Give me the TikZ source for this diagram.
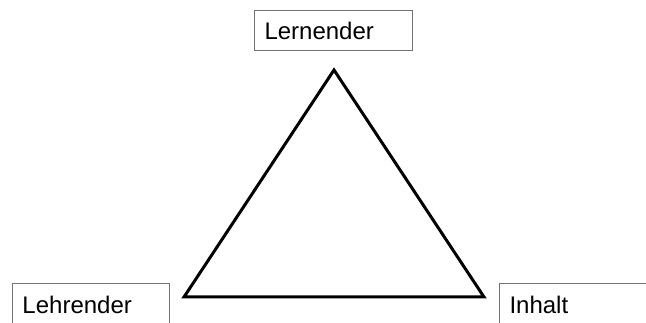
\documentclass[tikz,border=0pt]{standalone}
\usepackage{fontspec}
\setmainfont{Liberation Sans}
\begin{document}
\begin{tikzpicture}[x=1pt,y=-1pt,
  labelbox/.style={draw=black!55, line width=1pt, anchor=north west, inner xsep=10pt, inner ysep=0pt,
    align=left, font=\fontsize{24}{28}\selectfont, text depth=0pt},
  edge/.style={line width=3pt, line join=miter}]
\clip (0,0) rectangle (646,323);
\fill[white] (0,0) rectangle (646,323);
\node[labelbox, text width=138pt, minimum height=40pt] (lern) at (254,10) {Lernender};
\node[labelbox, text width=137pt, minimum height=42pt] (lehr) at (12,283) {Lehrender};
\node[labelbox, text width=141pt, minimum height=42pt] (inh) at (499,283) {Inhalt};
\coordinate (top) at (334,70);
\coordinate (bl) at (184,297);
\coordinate (br) at (484,297);
\draw[edge] (top) -- (bl) -- (br) -- cycle;
\end{tikzpicture}
\end{document}
